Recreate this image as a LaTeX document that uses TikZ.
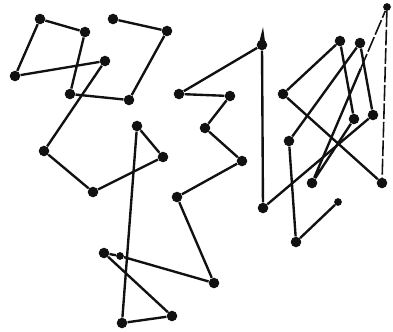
\documentclass[tikz,border=0pt]{standalone}
\usetikzlibrary{calc}
\definecolor{ink}{HTML}{111111}
\tikzset{dot/.style={circle,fill=ink,inner sep=0pt,minimum size=6pt},small/.style={dot,minimum size=4.4pt},walk/.style={ink,line width=1.35pt},faint/.style={ink,line width=.9pt,dash pattern=on 9pt off 1.5pt}}

\begin{document}
\begin{tikzpicture}[x=0.02cm,y=-0.02cm]
\useasboundingbox (0,0) rectangle (393,332);
% left loop
\node[dot] (a1) at (40,19){};\node[dot] (a2) at (85,32){};\node[dot] (a3) at (70,94){};\node[dot] (a4) at (129,100){};\node[dot] (a5) at (167,31){};
\node[dot] (a6) at (113,19){};\node[dot] (a7) at (15,76){};\node[dot] (a8) at (105,61){};\node[dot] (a9) at (44,151){};
% middle zigzag
\node[dot] (b1) at (93,192){};\node[dot] (b2) at (163,157){};\node[dot] (b3) at (137,126){};\node[dot] (b4) at (122,323){};\node[dot] (b5) at (172,316){};
\node[dot] (b6) at (104,253){};\node[small] (b7) at (120,256){};\node[dot] (b8) at (214,283){};\node[dot] (b9) at (177,197){};\node[dot] (b10) at (242,161){};
\node[dot] (b11) at (205,128){};\node[dot] (b12) at (230,96){};\node[dot] (b13) at (179,94){};\node[dot] (b14) at (262,45){};\node[dot] (b15) at (263,208){};
\coordinate (tip) at (263,27);
% right part
\node[dot] (c1) at (373,115){};\node[dot] (c2) at (360,43){};\node[dot] (c3) at (289,141){};\node[dot] (c4) at (296,242){};\node[small] (c5) at (338,202){};
\node[dot] (d1) at (283,94){};\node[dot] (d2) at (340,41){};\node[dot] (d3) at (354,119){};\node[dot] (d4) at (312,183){};\node[small] (d5) at (387,7){};\node[dot] (d6) at (382,183){};
\coordinate (d45) at ($(d4)!0.65!(d5)$);

\draw[walk] (a6)--(a5)--(a4)--(a3)--(a2)--(a1)--(a7)--(a8)--(a9)--(b1)--(b2)--(b3)--(b4)--(b5)--(b6)--(b7)--(b8)--(b9)--(b10)--(b11)--(b12)--(b13)--(b14)--(b15)--(c1)--(c2)--(c3)--(c4)--(c5);
\fill[ink] ($(b14)+(-3.5,0)$)--(tip)--($(b14)+(3.5,0)$)--cycle;
\draw[walk] (d6)--(d1)--(d2)--(d3)--(d4)--(d45);
\draw[faint] (d45)--(d5)--(d6);
\end{tikzpicture}
\end{document}
